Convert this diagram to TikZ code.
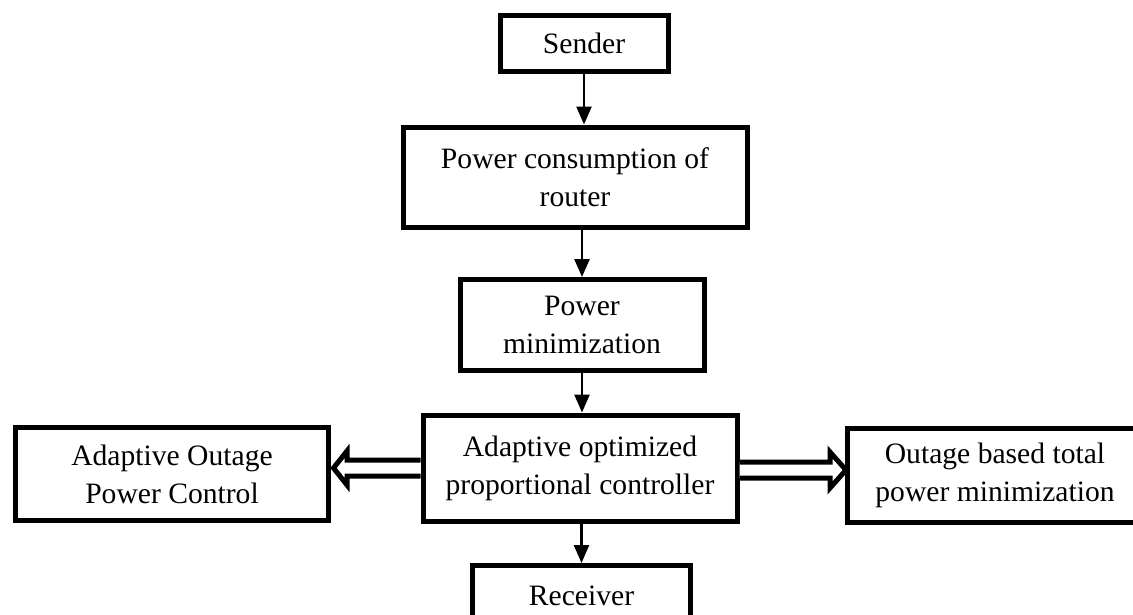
\documentclass[tikz,border=0pt]{standalone}
\usepackage{fontspec}
\setmainfont{Liberation Serif}
\usetikzlibrary{arrows.meta,calc}
\begin{document}
\begin{tikzpicture}[x=1pt,y=-1pt,
  box/.style={draw,line width=5pt,inner sep=0pt,outer sep=0pt,align=center,
    font=\fontsize{29.6}{38}\selectfont,fill=white},
  arr/.style={line width=2.5pt,-{Triangle[length=18pt,width=15pt]},shorten >=2.5pt},
  blk/.style={line width=5pt,fill=white,line join=miter}]
\useasboundingbox (0,0) rectangle (1133,614);
\node[box,minimum width=168pt,minimum height=56pt] (sender) at (584,43) {Sender};
\node[box,minimum width=344pt,minimum height=100pt] (pc) at (575,177) {Power consumption of\\router};
\node[box,minimum width=244pt,minimum height=91pt] (pm) at (582,325) {Power\\minimization};
\node[box,minimum width=314pt,minimum height=106pt] (mid) at (580,468) {Adaptive optimized\\proportional controller};
\node[box,minimum width=313pt,minimum height=93pt] (lbox) at (172,474) {Adaptive Outage\\Power Control};
\node[box,minimum width=295pt,minimum height=94pt] (rbox) at (995,475) {Outage based total\\power minimization};
\node[box,minimum width=218pt,minimum height=61pt] (rec) at (581.5,596) {Receiver};
\draw[arr] (sender.south) -- (sender.south |- pc.north);
\draw[arr] (pc.south -| pm.north) -- (pm.north);
\draw[arr] (pm.south) -- (pm.south |- mid.north);
\draw[arr] (mid.south -| rec.north) -- (rec.north);
\draw[blk] ($(mid.west)+(-2.5,-8)$) -- ($(mid.west)+(-76,-8)$) -- ++(0,-9)
  -- ($(lbox.east)+(5,-6)$) -- ($(mid.west)+(-76,17)$) -- ++(0,-9)
  -- ($(mid.west)+(-2.5,8)$);
\draw[blk] ($(mid.east)+(2.5,-6)$) -- ($(mid.east)+(93,-6)$) -- ++(0,-10)
  -- ($(rbox.west)+(-1.5,-5)$) -- ($(mid.east)+(93,20)$) -- ++(0,-10)
  -- ($(mid.east)+(2.5,10)$);
\end{tikzpicture}
\end{document}
